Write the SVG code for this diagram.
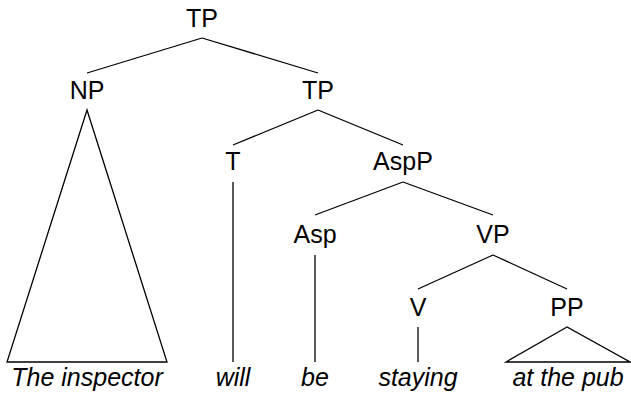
<svg xmlns="http://www.w3.org/2000/svg" width="631" height="394" viewBox="0 0 631 394">
<style>
text{font-family:"Liberation Sans",Arial,sans-serif;font-size:25px;fill:#000;text-anchor:middle}
.leaf{font-style:italic}
line,polygon{stroke:#000;stroke-width:1.3;fill:none}
</style>
<rect width="631" height="394" fill="#fff"/>
<g id="connectors">
<line x1="202" y1="38" x2="87" y2="73"/>
<line x1="202" y1="38" x2="318" y2="73"/>
<polygon points="87,110 7,362 167,362"/>
<line x1="318" y1="110" x2="233" y2="145"/>
<line x1="318" y1="110" x2="403" y2="145"/>
<line x1="233" y1="182" x2="233" y2="362"/>
<line x1="403" y1="182" x2="315" y2="215"/>
<line x1="403" y1="182" x2="493" y2="215"/>
<line x1="315" y1="255" x2="315" y2="362"/>
<line x1="493" y1="255" x2="418" y2="289"/>
<line x1="493" y1="255" x2="567" y2="289"/>
<line x1="418" y1="327" x2="418" y2="362"/>
<polygon points="567,327 506,362 630,362"/>
</g>
<g id="tp1"><text x="202" y="27">TP</text></g>
<g id="np"><text x="87" y="99">NP</text></g>
<g id="tp2"><text x="318" y="99">TP</text></g>
<g id="t"><text x="233" y="170">T</text></g>
<g id="aspp"><text x="403" y="170">AspP</text></g>
<g id="asp"><text x="315" y="243">Asp</text></g>
<g id="vp"><text x="493" y="243">VP</text></g>
<g id="v"><text x="418" y="316">V</text></g>
<g id="pp"><text x="567" y="316">PP</text></g>
<g id="leaf-np"><text class="leaf" x="87" y="386">The inspector</text></g>
<g id="leaf-t"><text class="leaf" x="233" y="386">will</text></g>
<g id="leaf-asp"><text class="leaf" x="315" y="386">be</text></g>
<g id="leaf-v"><text class="leaf" x="418" y="386">staying</text></g>
<g id="leaf-pp"><text class="leaf" x="568" y="386">at the pub</text></g>
</svg>
